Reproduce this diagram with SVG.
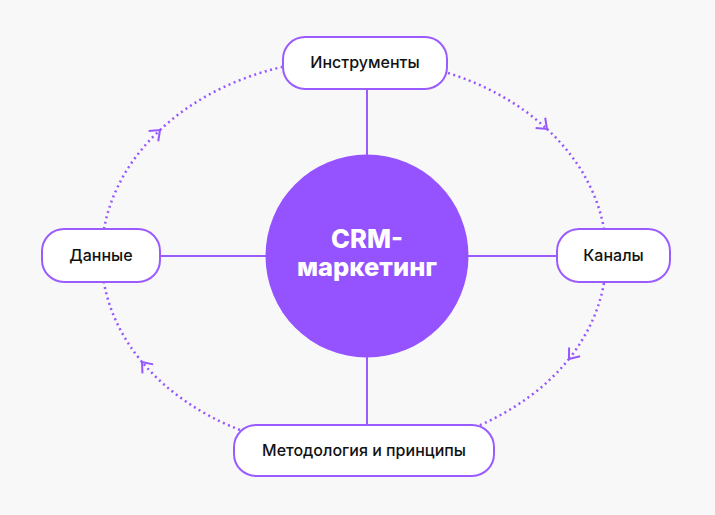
<svg xmlns="http://www.w3.org/2000/svg" width="715" height="515" viewBox="0 0 715 515">
  <style>
    .box { fill: #FFFFFF; stroke: #9B5CFF; stroke-width: 2; }
    .lbl { font-family: Inter, "Noto Sans", "Liberation Sans", sans-serif; font-size: 16px; font-weight: 500; fill: #111111; text-anchor: middle; }
    .spoke { stroke: #9B5CFF; stroke-width: 2; fill: none; }
    .dots { stroke: #9757FF; stroke-width: 2.5; fill: none; stroke-dasharray: 2 3.5; }
    .core { font-family: Inter, "Noto Sans", "Liberation Sans", sans-serif; font-size: 25.5px; font-weight: 800; fill: #FFFFFF; text-anchor: middle; }
  </style>
  <defs>
    <marker id="chev" markerUnits="userSpaceOnUse" markerWidth="20" markerHeight="20" viewBox="-12 -10 16 20" refX="0" refY="0" orient="auto">
      <path d="M-9,-7 L0,0 L-9,7" fill="none" stroke="#9757FF" stroke-width="2" stroke-dasharray="none"/>
    </marker>
  </defs>
  <rect width="715" height="515" fill="#F8F8F8"/>

  <g id="connectors">
    <line class="spoke" x1="367" y1="89" x2="367" y2="156"/>
    <line class="spoke" x1="160" y1="256" x2="266" y2="256"/>
    <line class="spoke" x1="467" y1="256" x2="557" y2="256"/>
    <line class="spoke" x1="367" y1="356" x2="367" y2="425"/>

    <path class="dots" d="M448,73 A252,197 0 0 1 547,129" marker-end="url(#chev)"/>
    <path class="dots" d="M547,129 A252,197 0 0 1 604,229"/>

    <path class="dots" d="M604,283 A252,197 0 0 1 569,359" marker-end="url(#chev)"/>
    <path class="dots" d="M569,359 A252,197 0 0 1 478,426"/>

    <path class="dots" d="M240,430 A252,197 0 0 1 142,362" marker-end="url(#chev)"/>
    <path class="dots" d="M142,362 A252,197 0 0 1 104,283"/>

    <path class="dots" d="M104,229 A252,197 0 0 1 160,130" marker-end="url(#chev)"/>
    <path class="dots" d="M160,130 A252,197 0 0 1 282,67"/>
  </g>

  <g id="center">
    <circle cx="367" cy="256" r="101.5" fill="#9552FF"/>
    <text class="core" x="367" y="248">CRM-</text>
    <text class="core" x="367" y="276">маркетинг</text>
  </g>

  <g id="node-tools">
    <rect class="box" x="283" y="37" width="164" height="52" rx="22"/>
    <text class="lbl" x="365" y="68">Инструменты</text>
  </g>

  <g id="node-data">
    <rect class="box" x="42" y="229" width="118" height="53" rx="22"/>
    <text class="lbl" x="101" y="261">Данные</text>
  </g>

  <g id="node-channels">
    <rect class="box" x="557" y="229" width="113" height="53" rx="22"/>
    <text class="lbl" x="613.5" y="261">Каналы</text>
  </g>

  <g id="node-methods">
    <rect class="box" x="234" y="425" width="260" height="51" rx="22"/>
    <text class="lbl" x="364" y="456">Методология и принципы</text>
  </g>
</svg>
